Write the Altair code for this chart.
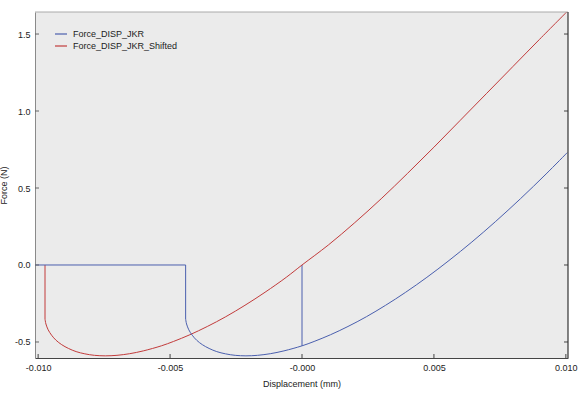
import altair as alt
import pandas as pd

# ---- data ----
series_names = ["Force_DISP_JKR", "Force_DISP_JKR_Shifted"]
series_colors = ["#4a5fae", "#c23b3b"]

# Force_DISP_JKR: flat approach segment + pull-off drop
blue_flat_x = [-0.0101, -0.00441, -0.00441]
blue_flat_y = [0.0, 0.0, -0.351]
# jump into contact at zero displacement
blue_jump_x = [0.0, 0.0]
blue_jump_y = [0.0, -0.525]
# main JKR curve
blue_curve_x = [-0.00441, -0.004375, -0.00429, -0.00416, -0.00399, -0.003776, -0.00352,
                -0.003231, -0.00290, -0.002531, -0.002125, -0.001682, -0.00120, -0.000684,
                0.0, 0.000458, 0.00108, 0.001742, 0.00244, 0.003168, 0.00393, 0.004733,
                0.00557, 0.006438, 0.00734, 0.008279, 0.00925, 0.010053]
blue_curve_y = [-0.351, -0.383, -0.421, -0.456, -0.489, -0.5175, -0.542,
                -0.5624, -0.577, -0.5867, -0.590, -0.5866, -0.576, -0.5578,
                -0.525, -0.4967, -0.453, -0.3993, -0.336, -0.2617, -0.177, -0.080,
                0.029, 0.1494, 0.283, 0.4303, 0.591, 0.730]

# Force_DISP_JKR_Shifted
red_flat_x = [-0.00974, -0.00974]
red_flat_y = [0.0, -0.351]
red_curve_x = [-0.00974, -0.009705, -0.00962, -0.00949, -0.00932, -0.009106, -0.00885,
               -0.008561, -0.00823, -0.007861, -0.007455, -0.007012, -0.00653, -0.006014,
               -0.00533, -0.004872, -0.00425, -0.003588, -0.00289, -0.002162, -0.0014,
               -0.000597, 0.0, 0.001, 0.002, 0.003, 0.004, 0.005, 0.006, 0.007, 0.008,
               0.009, 0.0101]
red_curve_y = [-0.351, -0.383, -0.421, -0.456, -0.489, -0.5175, -0.542,
               -0.5624, -0.577, -0.5867, -0.590, -0.5866, -0.576, -0.5578,
               -0.525, -0.4967, -0.453, -0.3993, -0.336, -0.2617, -0.177,
               -0.080, 0.0, 0.13, 0.275, 0.43, 0.595, 0.765, 0.94, 1.115, 1.29,
               1.465, 1.655]

x_ticks = [-0.01, -0.005, 0.0, 0.005, 0.01]
y_ticks = [-0.5, 0.0, 0.5, 1.0, 1.5]
x_domain = [-0.010119, 0.010081]
y_domain = [-0.604, 1.643]

W, H = 533, 346
FONT = "Liberation Sans"

def frame(xs, ys, name, seg):
    return pd.DataFrame({"x": xs, "y": ys, "series": name, "seg": seg,
                         "idx": list(range(len(xs)))})

lin_df = pd.concat([
    frame(red_flat_x, red_flat_y, series_names[1], "rf"),
    frame(blue_flat_x, blue_flat_y, series_names[0], "bf"),
    frame(blue_jump_x, blue_jump_y, series_names[0], "bj"),
])
curve_df = pd.concat([
    frame(red_curve_x, red_curve_y, series_names[1], "rc"),
    frame(blue_curve_x, blue_curve_y, series_names[0], "bc"),
])

xs = alt.Scale(domain=x_domain, nice=False, zero=False)
ys = alt.Scale(domain=y_domain, nice=False, zero=False)
cs = alt.Scale(domain=series_names, range=series_colors)

x_axis = alt.Axis(values=x_ticks, tickSize=0, grid=False, domainColor="#444",
                  labelExpr="datum.value == 0 ? '-0.000' : (datum.value < 0 ? '-' + format(-datum.value, '.3f') : format(datum.value, '.3f'))",
                  labelPadding=5, titlePadding=7, labelFlush=False)
y_axis = alt.Axis(values=y_ticks, tickSize=0, grid=False, domainColor="#8a8a8a",
                  labelExpr="datum.value < 0 ? '-' + format(-datum.value, '.1f') : format(datum.value, '.1f')",
                  labelPadding=5, titlePadding=6)

lines_lin = alt.Chart(lin_df).mark_line(strokeWidth=1, clip=True).encode(
    x=alt.X("x:Q", scale=xs, axis=x_axis, title="Displacement (mm)"),
    y=alt.Y("y:Q", scale=ys, axis=y_axis, title="Force (N)"),
    color=alt.Color("series:N", scale=cs, legend=None),
    detail="seg:N",
    order="idx:Q",
)
lines_curve = alt.Chart(curve_df).mark_line(strokeWidth=1, clip=True,
                                            interpolate="catmull-rom").encode(
    x=alt.X("x:Q", scale=xs),
    y=alt.Y("y:Q", scale=ys),
    color=alt.Color("series:N", scale=cs, legend=None),
    detail="seg:N",
    order="idx:Q",
)

# inward ticks
xt_df = pd.DataFrame({"v": x_ticks})
yt_df = pd.DataFrame({"v": y_ticks})
tick_x = alt.Chart(xt_df).mark_rule(color="#444", strokeWidth=1).encode(
    x=alt.X("v:Q", scale=xs), y=alt.value(H - 4), y2=alt.value(H))
tick_yl = alt.Chart(yt_df).mark_rule(color="#666", strokeWidth=1).encode(
    y=alt.Y("v:Q", scale=ys), x=alt.value(0), x2=alt.value(4))
tick_yr = alt.Chart(yt_df).mark_rule(color="#444", strokeWidth=1).encode(
    y=alt.Y("v:Q", scale=ys), x=alt.value(W - 4), x2=alt.value(W))

# frame lines (top gray, right dark)
top_line = alt.Chart(pd.DataFrame({"a": [0]})).mark_rule(color="#aaaaaa", strokeWidth=1).encode(
    x=alt.value(0), x2=alt.value(W), y=alt.value(0))
right_line = alt.Chart(pd.DataFrame({"a": [0]})).mark_rule(color="#333333", strokeWidth=1.2).encode(
    x=alt.value(W), y=alt.value(0), y2=alt.value(H))

# legend
leg_layers = []
for i, (name, col) in enumerate(zip(series_names, series_colors)):
    yy = 22 + 12 * i
    ldf = pd.DataFrame({"series": [name]})
    leg_layers.append(alt.Chart(ldf).mark_rule(color=col, strokeWidth=1.2).encode(
        x=alt.value(20), x2=alt.value(32), y=alt.value(yy)))
    leg_layers.append(alt.Chart(ldf).mark_text(align="left", baseline="middle", font=FONT,
                                               fontSize=9, color="#222").encode(
        x=alt.value(38), y=alt.value(yy), text="series:N"))

chart = alt.layer(lines_lin, lines_curve, tick_x, tick_yl, tick_yr, top_line, right_line,
                  *leg_layers).properties(
    width=W, height=H,
    padding={"left": 35, "top": 12, "right": 14, "bottom": 38},
    autosize=alt.AutoSizeParams(type="none"),
    background="white",
).configure_view(fill="#ebebeb", stroke=None).configure_axis(
    labelFont=FONT, titleFont=FONT, labelFontSize=9, titleFontSize=9,
    labelColor="#222", titleColor="#222", titleFontWeight="normal", domainWidth=1,
)

chart.save("out.html", embed_options={"renderer": "svg", "actions": False})
